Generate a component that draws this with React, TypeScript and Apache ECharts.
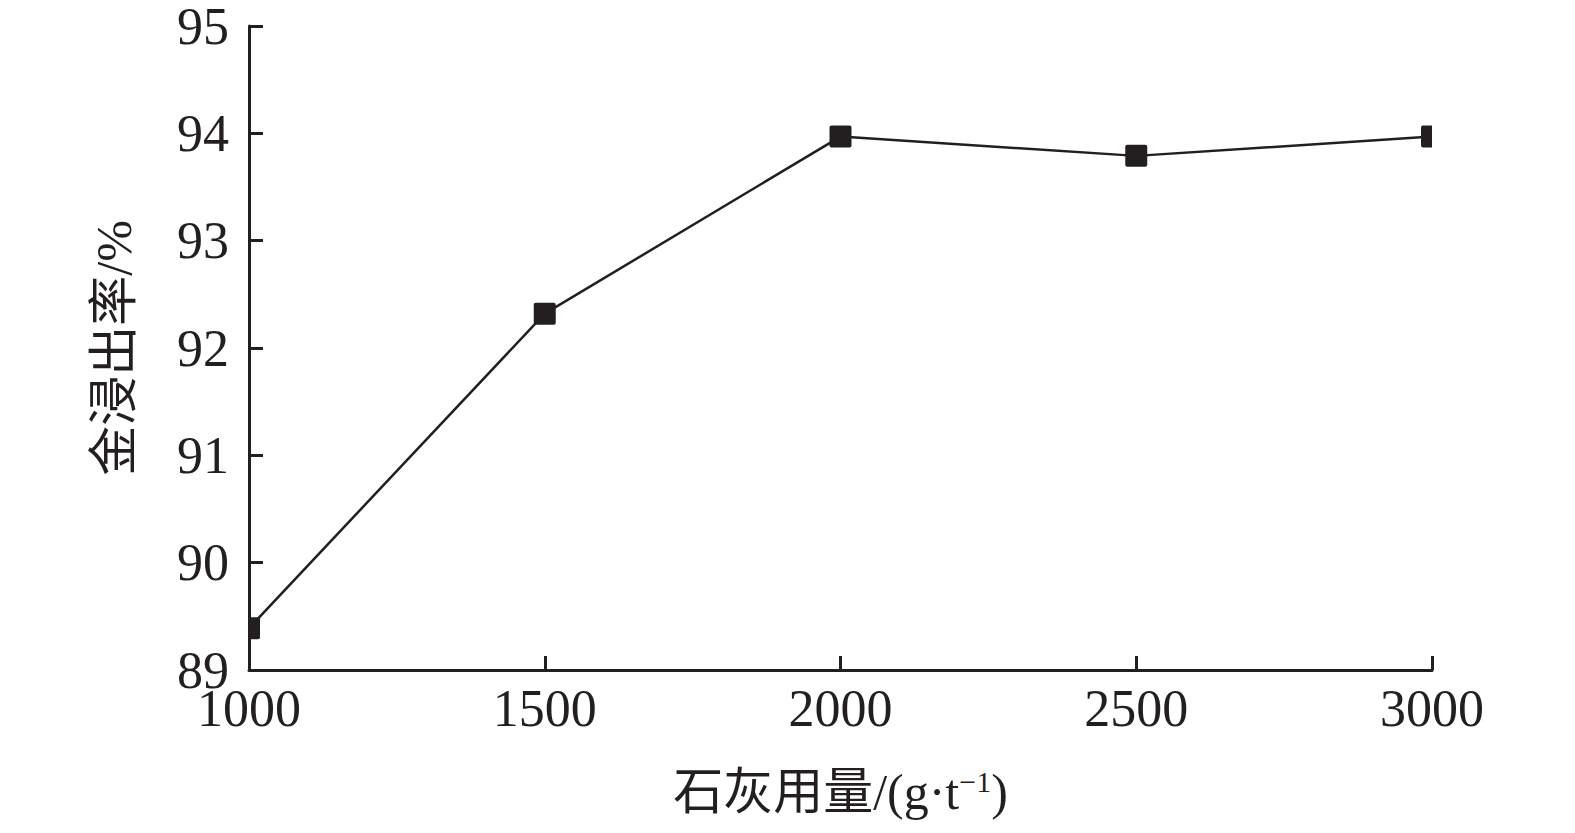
import React, { useEffect, useRef } from "react";
import * as echarts from "echarts";

const limeDose = [1000, 1500, 2000, 2500, 3000];
const goldLeaching = [89.39, 92.32, 93.97, 93.79, 93.97];
const yTicks = { min: 89, max: 95, interval: 1 };
const xTicks = { min: 1000, max: 3000, interval: 500 };
const xName = "石灰用量/(g·t{sup|−1})";
const yName = "金浸出率/%";

const FONT = '"Liberation Serif", "Noto Sans CJK SC", serif';
const INK = "#231f20";

export default function App() {
  const ref = useRef<HTMLDivElement>(null);
  useEffect(() => {
    if (!ref.current) return;
    const chart = echarts.init(ref.current, undefined, { renderer: "svg" });
    const pts = limeDose.map((x, i) => [x, goldLeaching[i]]);
    chart.setOption({
      animation: false,
      backgroundColor: "#ffffff",
      grid: { left: 249, right: 143, top: 22, bottom: 163, containLabel: false },
      xAxis: {
        type: "value",
        min: xTicks.min,
        max: xTicks.max,
        interval: xTicks.interval,
        name: xName,
        nameLocation: "middle",
        nameGap: 96,
        nameTextStyle: {
          fontFamily: FONT,
          fontSize: 50,
          color: INK,
          rich: {
            sup: { fontFamily: FONT, fontSize: 30, color: INK, padding: [0, 0, 22, 0] },
          },
        },
        axisLine: { lineStyle: { color: INK, width: 3 } },
        axisTick: { inside: true, length: 14, lineStyle: { color: INK, width: 3 } },
        axisLabel: {
          fontFamily: FONT,
          fontSize: 52,
          lineHeight: 44,
          color: INK,
          margin: 16,
          formatter: (v: number) => String(v),
        },
        splitLine: { show: false },
      },
      yAxis: {
        type: "value",
        min: yTicks.min,
        max: yTicks.max,
        interval: yTicks.interval,
        name: yName,
        nameLocation: "middle",
        nameRotate: 90,
        nameGap: 110,
        nameTextStyle: { fontFamily: FONT, fontSize: 50, color: INK },
        axisLine: { lineStyle: { color: INK, width: 3 } },
        axisTick: { inside: true, length: 14, lineStyle: { color: INK, width: 3 } },
        axisLabel: {
          fontFamily: FONT,
          fontSize: 52,
          lineHeight: 44,
          color: INK,
          margin: 20,
          formatter: (v: number) => String(v),
        },
        splitLine: { show: false },
      },
      series: [
        {
          type: "line",
          data: pts,
          showSymbol: false,
          symbol: "none",
          lineStyle: { color: INK, width: 2.5 },
          clip: true,
          z: 2,
        },
        {
          type: "custom",
          data: pts,
          clip: true,
          z: 3,
          renderItem: (params: any, api: any) => {
            const c = api.coord([api.value(0), api.value(1)]);
            const s = 22;
            return {
              type: "rect",
              shape: { x: c[0] - s / 2, y: c[1] - s / 2, width: s, height: s, r: 2 },
              style: { fill: INK },
            };
          },
        },
      ],
    });
    return () => chart.dispose();
  }, []);
  return (
    <div
      ref={ref}
      style={{ position: "fixed", left: 0, top: 0, width: 1575, height: 833 }}
    />
  );
}
